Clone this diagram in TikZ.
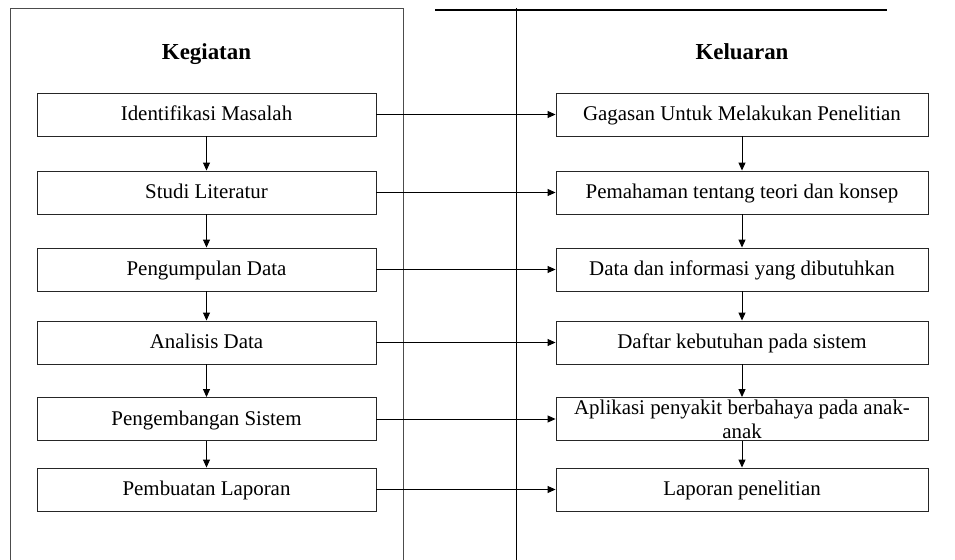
\documentclass[tikz,border=0pt]{standalone}
\usepackage{fontspec}
\setmainfont{Liberation Serif}
\usetikzlibrary{arrows.meta}
\begin{document}
\begin{tikzpicture}[x=1bp,y=-1bp,
  box/.style={draw=black!85, line width=0.9bp, minimum height=43bp, inner sep=0pt,
    font=\fontsize{21}{24}\selectfont, align=center},
  onel/.style={text height=16bp, text depth=4bp},
  lbox/.style={box, onel, minimum width=339bp},
  rbox/.style={box, minimum width=372bp},
  head/.style={font=\fontsize{23}{26}\selectfont\bfseries, inner sep=0pt, anchor=base},
  arr/.style={-{Triangle[length=8bp,width=7bp]}, line width=1bp},
  frame/.style={draw=black!70, line width=1bp}]
\useasboundingbox (0,0) rectangle (955,560);
% frames
\draw[frame] (10,560) -- (10,9) -- (403,9) -- (403,560);
\draw[line width=2bp] (435,10) -- (887,10);
\draw[line width=1bp] (516,8) -- (516,560);
% headers
\node[head] (hk) at (206.5,60) {Kegiatan};
\node[head] (hr) at (742,60) {Keluaran};
% left column
\node[lbox] (l1) at (206.5,114.5) {Identifikasi Masalah};
\node[lbox] (l2) at (206.5,192.5) {Studi Literatur};
\node[lbox] (l3) at (206.5,269.5) {Pengumpulan Data};
\node[lbox] (l4) at (206.5,342.5) {Analisis Data};
\node[lbox] (l5) at (206.5,419) {Pengembangan Sistem};
\node[lbox] (l6) at (206.5,489.5) {Pembuatan Laporan};
% right column
\node[rbox, onel] (r1) at (742,114.5) {Gagasan Untuk Melakukan Penelitian};
\node[rbox, onel] (r2) at (742,192.5) {Pemahaman tentang teori dan konsep};
\node[rbox, onel] (r3) at (742,269.5) {Data dan informasi yang dibutuhkan};
\node[rbox, onel] (r4) at (742,342.5) {Daftar kebutuhan pada sistem};
\node[rbox] (r5) at (742,419) {Aplikasi penyakit berbahaya pada anak-\\anak};
\node[rbox, onel] (r6) at (742,489.5) {Laporan penelitian};
% vertical arrows
\foreach \a/\b in {1/2,2/3,3/4,4/5,5/6}{
  \draw[arr] (l\a) -- (l\b);
  \draw[arr] (r\a) -- (r\b);
}
% horizontal arrows
\foreach \i in {1,...,6}{
  \draw[arr] (l\i.east) -- (r\i.west);
}
\end{tikzpicture}
\end{document}
